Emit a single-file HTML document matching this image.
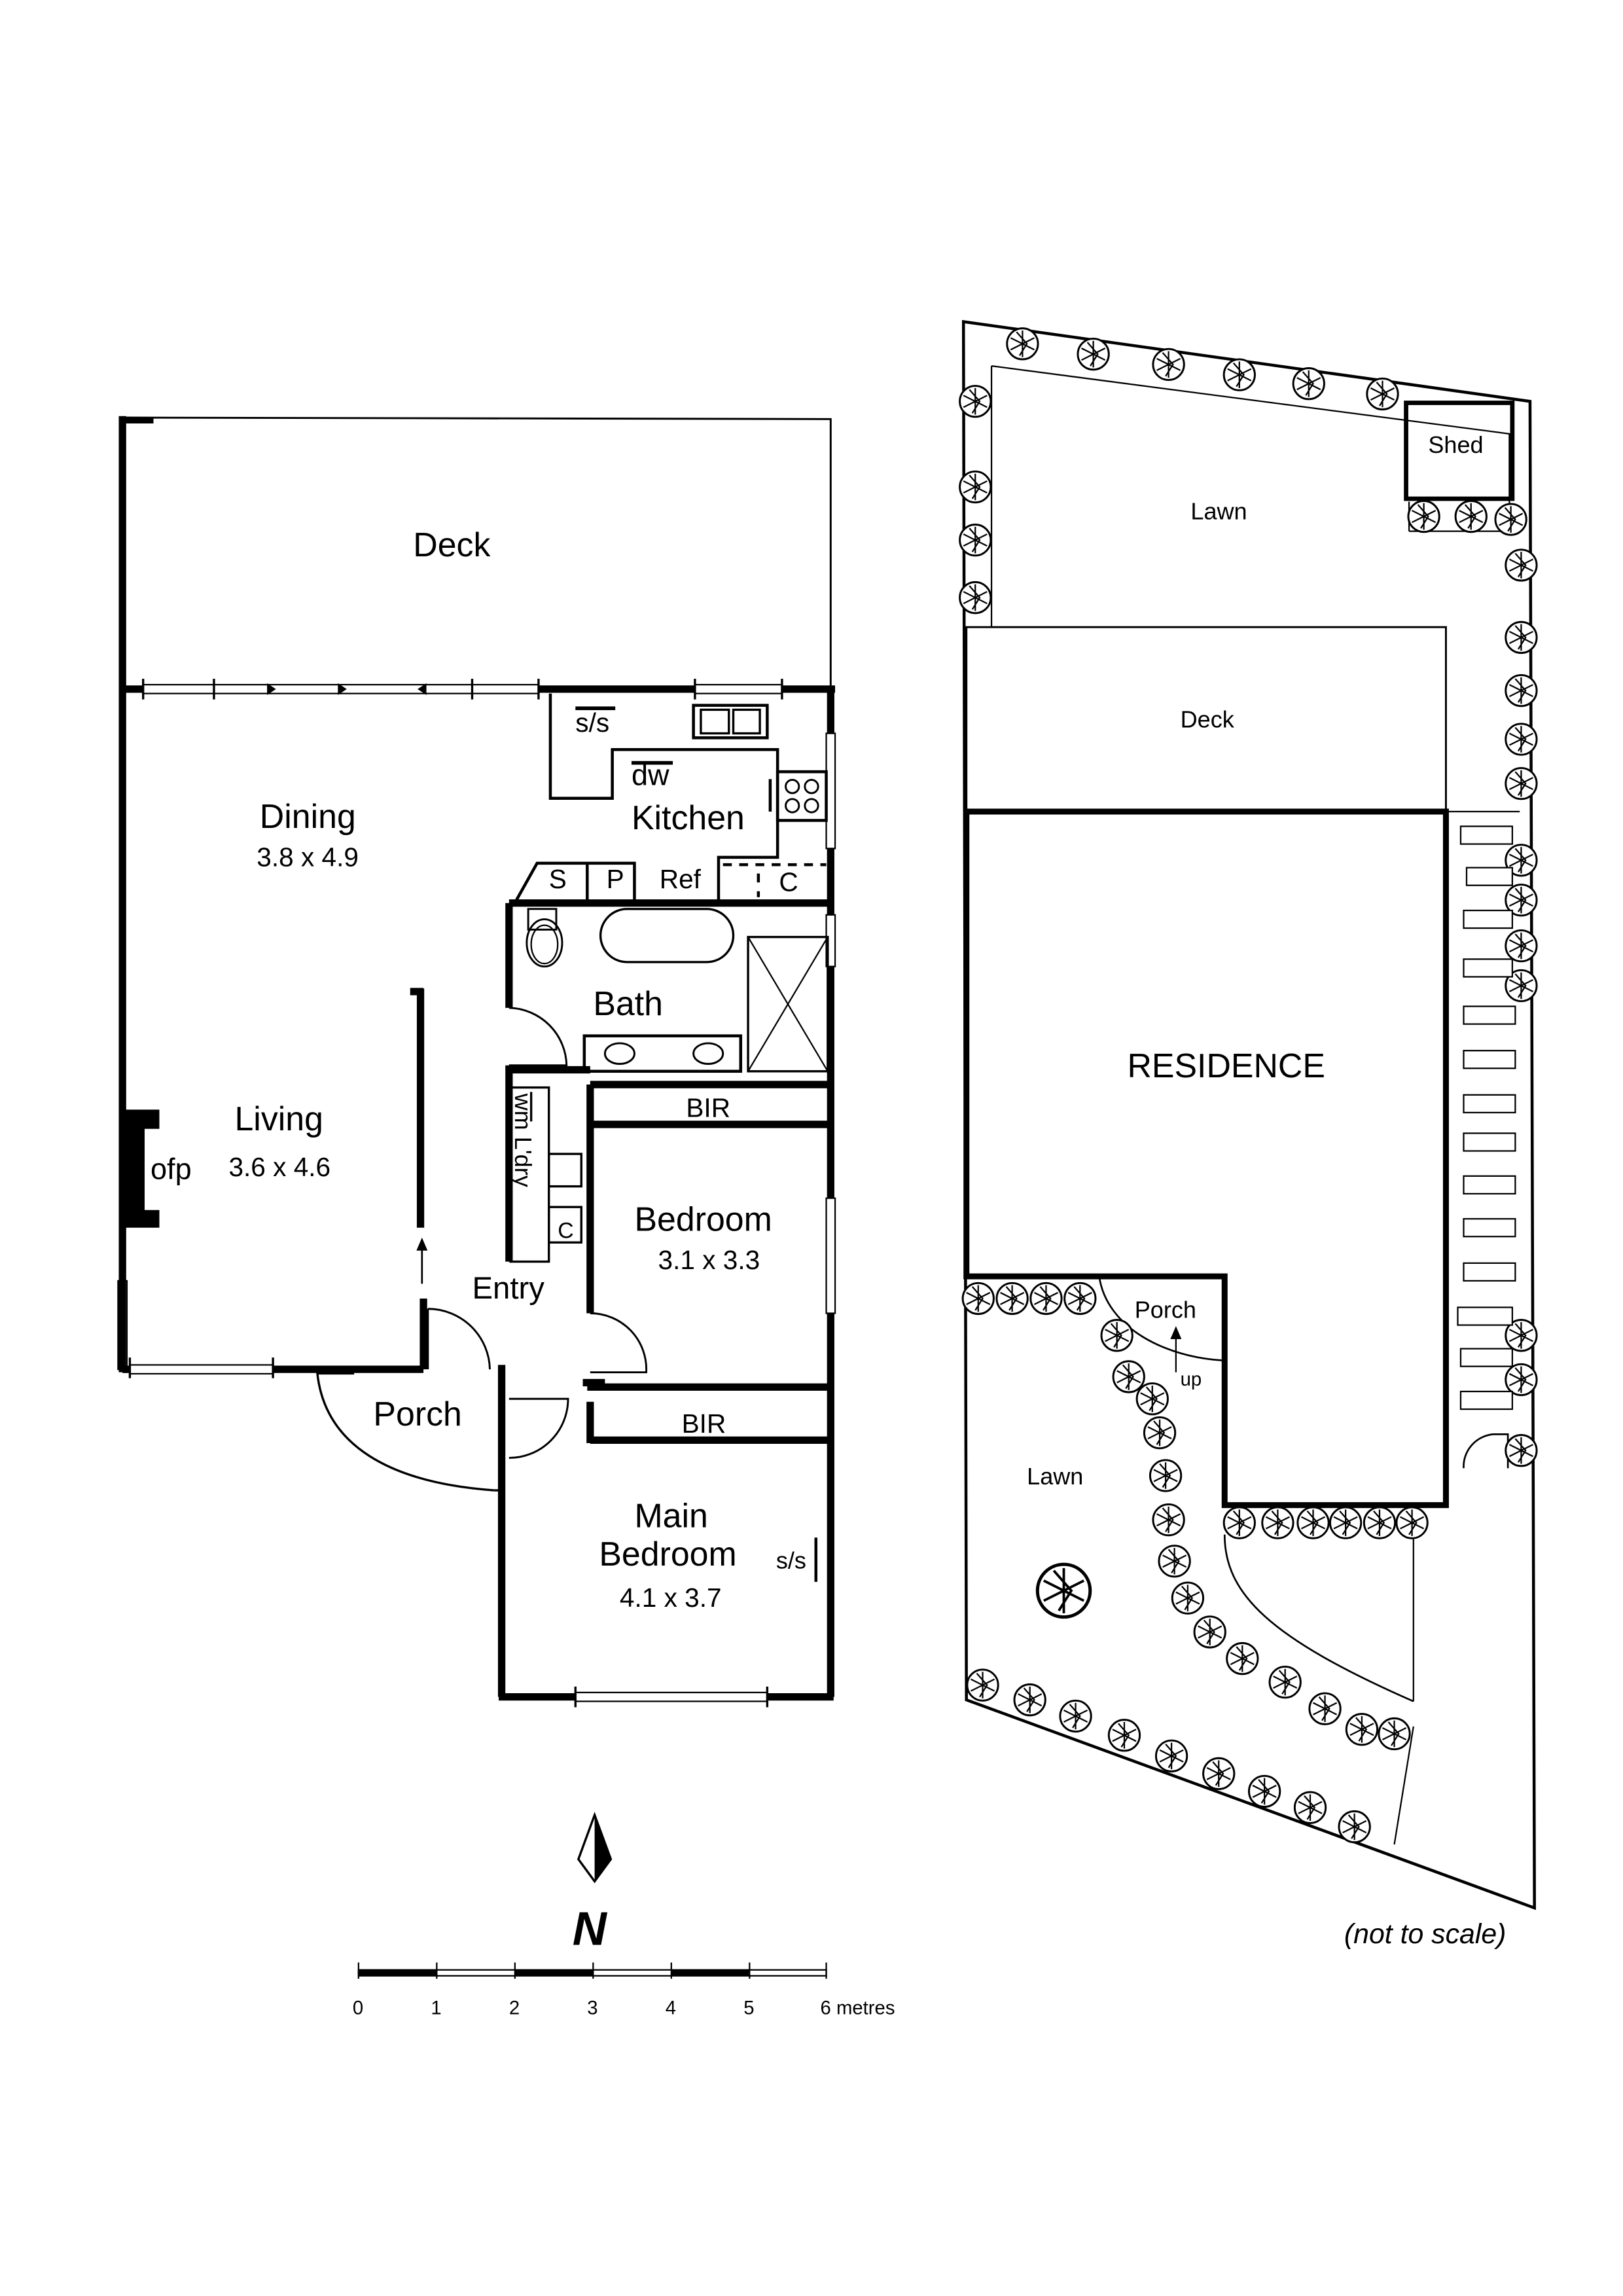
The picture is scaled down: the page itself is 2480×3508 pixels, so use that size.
<!DOCTYPE html>
<html><head><meta charset="utf-8"><style>html,body{margin:0;padding:0;background:#fff}svg{display:block}text{font-family:"Liberation Sans",sans-serif;fill:#000}</style></head>
<body>
<svg width="2480" height="3508" viewBox="0 0 1100 1556" xmlns="http://www.w3.org/2000/svg">
<defs>
<g id="t"><circle r="10.5" fill="#fff" stroke="#000" stroke-width="1.3"/><path d="M0 -9 L0 9 M-8 -4 L8 4 M-8 4 L8 -4 M-4 -8 L3 0 L-2 8" stroke="#000" stroke-width="1" fill="none"/></g>
</defs>
<g fill="none" stroke="#000">
<path d="M83 283 L563 284 L563 465" stroke-width="1.3"/>
<path d="M83 282 L83 930" stroke-width="5"/>
<line x1="83" y1="285" x2="104" y2="285" stroke-width="4"/>
<g stroke-width="5"><line x1="83" y1="467" x2="97" y2="467"/><line x1="365" y1="467" x2="471" y2="467"/><line x1="530" y1="467" x2="566" y2="467"/>
<line x1="563" y1="465" x2="563" y2="497"/><line x1="563" y1="575" x2="563" y2="620"/><line x1="563" y1="655" x2="563" y2="812"/><line x1="563" y1="890" x2="563" y2="1150"/></g>
<g stroke-width="1"><rect x="97" y="464" width="268" height="6"/><rect x="471" y="464" width="59" height="6"/><rect x="560" y="497" width="6" height="78"/><rect x="560" y="620" width="6" height="35"/><rect x="560" y="812" width="6" height="78"/>
<rect x="80" y="868" width="6" height="60"/><rect x="88" y="925" width="97" height="6"/><rect x="390" y="1147" width="130" height="6"/></g>
<g stroke-width="1.5"><line x1="97" y1="460" x2="97" y2="474"/><line x1="145" y1="460" x2="145" y2="474"/><line x1="320" y1="460" x2="320" y2="474"/><line x1="365" y1="460" x2="365" y2="474"/><line x1="471" y1="460" x2="471" y2="474"/><line x1="530" y1="460" x2="530" y2="474"/>
<line x1="88" y1="920" x2="88" y2="934"/><line x1="185" y1="920" x2="185" y2="934"/><line x1="390" y1="1143" x2="390" y2="1157"/><line x1="520" y1="1143" x2="520" y2="1157"/></g>
<g stroke-width="5"><line x1="83" y1="928" x2="88" y2="928"/><line x1="185" y1="928" x2="287" y2="928"/><line x1="285" y1="670" x2="285" y2="832"/><line x1="278" y1="672" x2="287" y2="672"/><line x1="287" y1="880" x2="287" y2="928"/>
<line x1="215" y1="929" x2="240" y2="929"/><line x1="340" y1="925" x2="340" y2="1150"/><line x1="338" y1="1150" x2="390" y2="1150"/><line x1="520" y1="1150" x2="565" y2="1150"/>
<line x1="345" y1="612" x2="565" y2="612"/><line x1="345" y1="612" x2="345" y2="683"/><line x1="345" y1="722" x2="345" y2="855"/><line x1="345" y1="725" x2="400" y2="725"/><line x1="400" y1="735" x2="400" y2="890"/><line x1="400" y1="735" x2="563" y2="735"/><line x1="400" y1="762" x2="563" y2="762"/><line x1="398" y1="940" x2="563" y2="940"/><line x1="400" y1="950" x2="400" y2="978"/><line x1="400" y1="976" x2="563" y2="976"/><line x1="395" y1="937" x2="410" y2="937"/></g>
<path d="M84 752 L108 752 L108 765 L98 765 L98 820 L108 820 L108 832 L84 832 Z" fill="#000" stroke="none"/>
<path d="M215 930 C220 980 265 1005 335 1010" stroke-width="1.5"/><line x1="335" y1="1010" x2="340" y2="1010" stroke-width="1.5"/>
<path d="M290 887 A42 42 0 0 1 332 928 M290 887 L290 928" stroke-width="1.3"/>
<path d="M345 683 A40 40 0 0 1 384 722 L345 722" stroke-width="1.3"/>
<path d="M400 890 A38 38 0 0 1 438 930 L400 930" stroke-width="1.3"/>
<path d="M345 988 A40 40 0 0 0 385 948 L345 948" stroke-width="1.3"/>
<line x1="286" y1="870" x2="286" y2="845" stroke-width="1.2"/><path d="M283 847 L286 840 L289 847Z" fill="#000"/>
<g fill="#000" stroke="none"><path d="M181 463 L187 467 L181 471Z"/><path d="M229 463 L235 467 L229 471Z"/><path d="M289 463 L283 467 L289 471Z"/></g>
<path d="M373 470 L373 541 L415 541 L415 508 L527 508 L527 581 L487 581 L487 610" stroke-width="2"/>
<path d="M390 480 L417 480 M428 517 L456 517" stroke-width="2.5"/>
<rect x="470" y="478" width="50" height="22" stroke-width="2"/><rect x="475" y="481" width="19" height="16" stroke-width="1.5"/><rect x="497" y="481" width="18" height="16" stroke-width="1.5"/>
<rect x="527" y="523" width="33" height="33" stroke-width="2"/><line x1="522" y1="528" x2="522" y2="550" stroke-width="2"/>
<g stroke-width="1.3"><circle cx="537" cy="533" r="4.5"/><circle cx="550" cy="533" r="4.5"/><circle cx="537" cy="546" r="4.5"/><circle cx="550" cy="546" r="4.5"/></g>
<path d="M350 610 L364 585 L430 585 L430 610 M398 585 L398 610" stroke-width="2"/>
<path d="M490 586 L560 586" stroke-width="2" stroke-dasharray="6 5"/><line x1="514" y1="592" x2="514" y2="608" stroke-width="2" stroke-dasharray="6 6"/>
<rect x="358" y="616" width="19" height="14" stroke-width="1.3"/><ellipse cx="369" cy="639" rx="12" ry="16" stroke-width="1.3"/><ellipse cx="369" cy="640" rx="9" ry="13" stroke-width="1"/>
<rect x="407" y="616" width="90" height="36" rx="18" stroke-width="1.5"/>
<rect x="507" y="635" width="54" height="91" stroke-width="1.5"/><path d="M507 635 L561 726 M561 635 L507 726" stroke-width="1"/>
<rect x="396" y="702" width="106" height="24" stroke-width="2"/><ellipse cx="420" cy="714" rx="10" ry="7" stroke-width="1.3"/><ellipse cx="480" cy="714" rx="10" ry="7" stroke-width="1.3"/>
<rect x="346" y="737" width="26" height="118" stroke-width="1.5"/><line x1="360" y1="740" x2="360" y2="760" stroke-width="1.5"/>
<rect x="372" y="782" width="22" height="22" stroke-width="1.5"/><rect x="372" y="818" width="22" height="24" stroke-width="1.5"/>
<line x1="553" y1="1042" x2="553" y2="1072" stroke-width="2"/>
<path d="M403 1230 L392 1260 L403 1275 L414 1260 Z" stroke-width="1.5" fill="#fff"/><path d="M403 1230 L403 1275 L414 1260Z" fill="#000" stroke="none"/>
<g stroke-width="1"><rect x="243" y="1335" width="317" height="4"/></g>
<g fill="#000" stroke="none"><rect x="243" y="1335" width="53" height="4"/><rect x="349" y="1335" width="53" height="4"/><rect x="455" y="1335" width="53" height="4"/></g>
<g stroke-width="1"><path d="M243 1330 V1341 M296 1330 V1341 M349 1330 V1341 M402 1330 V1341 M455 1330 V1341 M508 1330 V1341 M560 1330 V1341"/></g>
<path d="M653 218 L1037 272 L1040 1293 L655 1152 Z" stroke-width="2"/>
<path d="M672 248 L672 425 M672 248 L1023 294 L1023 355" stroke-width="1"/>
<rect x="655" y="425" width="325" height="125" stroke-width="1.3"/>
<path d="M655 550 L980 550 L980 1020 L830 1020 L830 865 L655 865 Z" stroke-width="4"/>
<path d="M980 550 L1030 550" stroke-width="1"/>
<rect x="953" y="273" width="72" height="65" stroke-width="3"/>
<path d="M955 360 L1030 360 M955 340 L955 360" stroke-width="1"/>
<path d="M745 865 C750 900 790 920 830 922" stroke-width="1.2"/>
<line x1="797" y1="930" x2="797" y2="905" stroke-width="1"/><path d="M794 907 L797 900 L800 907Z" fill="#000"/>
<path d="M830 1040 C830 1080 860 1110 958 1153" stroke-width="1.2"/>
<path d="M830 1020 L958 1020 L958 1153" stroke-width="1"/>
<path d="M958 1170 L945 1250" stroke-width="1"/>
<path d="M992 995 A22 22 0 0 1 1012 972 L1022 972 L1022 995" stroke-width="1.2"/>
</g>
<g>
<use href="#t" x="693" y="233"/><use href="#t" x="741" y="240"/><use href="#t" x="792" y="247"/><use href="#t" x="840" y="254"/><use href="#t" x="887" y="260"/><use href="#t" x="937" y="267"/>
<use href="#t" x="661" y="272"/><use href="#t" x="661" y="330"/><use href="#t" x="661" y="366"/><use href="#t" x="661" y="405"/>
<use href="#t" x="965" y="350"/><use href="#t" x="997" y="350"/><use href="#t" x="1024" y="352"/>
<use href="#t" x="1031" y="383"/><use href="#t" x="1031" y="432"/><use href="#t" x="1031" y="468"/><use href="#t" x="1031" y="501"/><use href="#t" x="1031" y="531"/>
<use href="#t" x="1031" y="583"/><use href="#t" x="1031" y="610"/><use href="#t" x="1031" y="641"/><use href="#t" x="1031" y="668"/><use href="#t" x="1031" y="905"/><use href="#t" x="1031" y="935"/><use href="#t" x="1031" y="983"/>
<use href="#t" x="663" y="880"/><use href="#t" x="686" y="880"/><use href="#t" x="709" y="880"/><use href="#t" x="732" y="880"/>
<use href="#t" x="757" y="905"/><use href="#t" x="765" y="933"/><use href="#t" x="781" y="948"/><use href="#t" x="786" y="971"/><use href="#t" x="790" y="1000"/><use href="#t" x="792" y="1030"/><use href="#t" x="796" y="1058"/><use href="#t" x="805" y="1083"/><use href="#t" x="820" y="1106"/><use href="#t" x="842" y="1124"/><use href="#t" x="871" y="1140"/><use href="#t" x="898" y="1158"/><use href="#t" x="923" y="1172"/><use href="#t" x="945" y="1175"/>
<use href="#t" x="840" y="1032"/><use href="#t" x="866" y="1032"/><use href="#t" x="890" y="1032"/><use href="#t" x="912" y="1032"/><use href="#t" x="935" y="1032"/><use href="#t" x="957" y="1032"/>
<use href="#t" x="666" y="1142"/><use href="#t" x="698" y="1152"/><use href="#t" x="729" y="1163"/><use href="#t" x="762" y="1176"/><use href="#t" x="794" y="1190"/><use href="#t" x="826" y="1202"/><use href="#t" x="857" y="1214"/><use href="#t" x="888" y="1225"/><use href="#t" x="918" y="1238"/>
<g transform="translate(721 1078) scale(1.7)"><use href="#t"/></g>
</g>
<g fill="#fff" stroke="#000" stroke-width="1">
<rect x="990" y="560" width="35" height="12"/><rect x="994" y="588" width="31" height="12"/><rect x="992" y="617" width="33" height="12"/><rect x="992" y="650" width="33" height="12"/><rect x="992" y="682" width="35" height="12"/><rect x="992" y="712" width="35" height="12"/><rect x="992" y="742" width="35" height="12"/><rect x="992" y="768" width="35" height="12"/><rect x="992" y="797" width="35" height="12"/><rect x="992" y="826" width="35" height="12"/><rect x="992" y="856" width="35" height="12"/><rect x="988" y="886" width="37" height="12"/><rect x="990" y="914" width="35" height="12"/><rect x="990" y="943" width="35" height="12"/>
</g>
<g font-size="23">
<text x="280" y="377">Deck</text>
<text x="176" y="561">Dining</text><text x="174" y="587" font-size="18">3.8 x 4.9</text>
<text x="159" y="766">Living</text><text x="155" y="797" font-size="18">3.6 x 4.6</text><text x="102" y="799" font-size="20">ofp</text>
<text x="428" y="562">Kitchen</text><text x="428" y="532" font-size="20">dw</text><text x="390" y="496" font-size="18">s/s</text>
<text x="372" y="602" font-size="18">S</text><text x="411" y="602" font-size="18">P</text><text x="447" y="602" font-size="18">Ref</text><text x="528" y="604" font-size="18">C</text>
<text x="402" y="688">Bath</text><text x="465" y="757" font-size="18">BIR</text><text x="462" y="971" font-size="18">BIR</text>
<text x="430" y="834">Bedroom</text><text x="446" y="860" font-size="18">3.1 x 3.3</text>
<text x="320" y="880" font-size="21">Entry</text><text x="253" y="966">Porch</text>
<text x="430" y="1035">Main</text><text x="406" y="1061">Bedroom</text><text x="420" y="1089" font-size="18">4.1 x 3.7</text>
<text x="526" y="1063" font-size="16">s/s</text><text x="378" y="839" font-size="15">C</text>
<text transform="translate(349 741) rotate(90)" font-size="16">wm  L'dry</text>
<text x="388" y="1318" font-size="32" font-weight="bold" font-style="italic">N</text>
<g font-size="13"><text x="239" y="1365">0</text><text x="292" y="1365">1</text><text x="345" y="1365">2</text><text x="398" y="1365">3</text><text x="451" y="1365">4</text><text x="504" y="1365">5</text><text x="556" y="1365">6 metres</text></g>
<text x="968" y="307" font-size="16">Shed</text><text x="807" y="352" font-size="16">Lawn</text><text x="800" y="493" font-size="16">Deck</text>
<text x="764" y="730" font-size="23">RESIDENCE</text><text x="769" y="893" font-size="16">Porch</text><text x="800" y="939" font-size="13">up</text>
<text x="696" y="1006" font-size="16">Lawn</text>
<text x="911" y="1317" font-size="19" font-style="italic">(not to scale)</text>
</g>
</svg>
</body></html>
